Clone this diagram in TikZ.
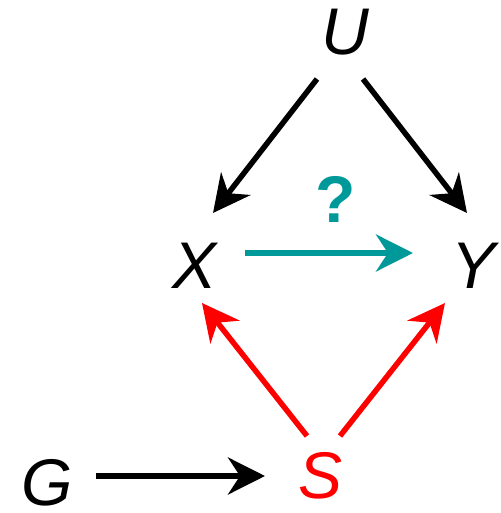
\documentclass[tikz,border=0pt]{standalone}
\usepackage{fontspec}
\setmainfont{Liberation Sans}
\usetikzlibrary{arrows.meta}
\definecolor{qteal}{RGB}{0,153,153}
\definecolor{selred}{RGB}{255,0,0}

\begin{document}
\begin{tikzpicture}[
  x=1pt, y=1pt,
  var/.style={inner sep=0pt, font=\fontsize{66}{70}\selectfont\itshape},
  arr/.style={line width=5.5pt, -{Stealth[length=37pt, width=37pt, inset=12pt]}}
]
\useasboundingbox (0,0) rectangle (500,513);

% ── variables ───────────────────────────────────────────────────────
\node[var] (U) at (345,481) {U};
\node[var] (X) at (195,247) {X};
\node[var] (Y) at (474,247) {Y};
\node[var, text=selred] (S) at (321,37) {S};
\node[var] (G) at (47,30) {G};
\node[inner sep=0pt, text=qteal, font=\fontsize{66}{70}\selectfont\bfseries] (q) at (336,314) {?};

% ── confounder ──────────────────────────────────────────────────────
\draw[arr] ([shift={(-28,-47)}]U.center) -- ([shift={(18,53)}]X.center);
\draw[arr] ([shift={(18,-47)}]U.center) -- ([shift={(-7,53)}]Y.center);

% ── query ───────────────────────────────────────────────────────────
\draw[arr, qteal] ([shift={(50,13)}]X.center) -- ([shift={(-61,13)}]Y.center);

% ── selection ───────────────────────────────────────────────────────
\draw[arr, selred] ([shift={(-14,40)}]S.center) -- ([shift={(7,-37)}]X.center);
\draw[arr, selred] ([shift={(19,40)}]S.center) -- ([shift={(-29,-37)}]Y.center);
\draw[arr] ([shift={(49,7)}]G.center) -- ([shift={(-56,0)}]S.center);

\end{tikzpicture}
\end{document}
